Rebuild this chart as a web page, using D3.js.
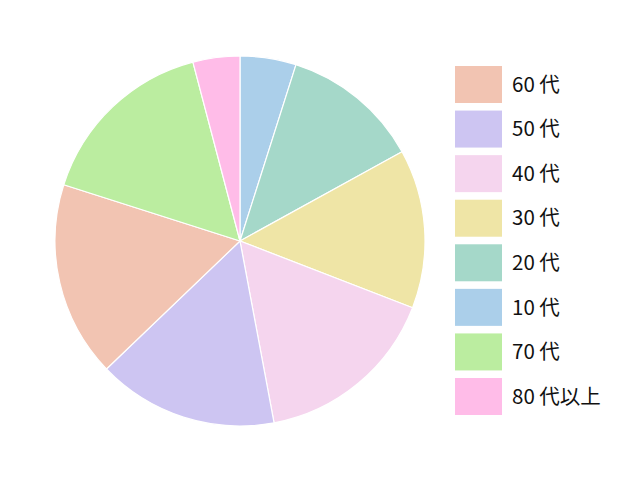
<!DOCTYPE html>
<html><head><meta charset="utf-8">
<script src="https://cdn.jsdelivr.net/npm/d3@7"></script>
<style>body{margin:0;background:#fff}</style>
</head><body>
<svg id="c" width="640" height="480"></svg>
<script>
const categories = ["10代","20代","30代","40代","50代","60代","70代","80代以上"];
const values = [4.9, 12.1, 13.9, 16.2, 15.8, 17.1, 16.0, 4.1];
const colors = ["#abcfea","#a5d8c9","#efe5a6","#f5d5ee","#cdc5f2","#f2c4b2","#bbeda0","#ffbce8"];
const legendOrder = ["60代","50代","40代","30代","20代","10代","70代","80代以上"];

const svg = d3.select("#c");
const cx = 240, cy = 241, r = 185;
const data = categories.map((c,i)=>({cat:c, v:values[i], col:colors[i]}));
const pie = d3.pie().value(d=>d.v).sort(null).startAngle(0).endAngle(2*Math.PI);
const arc = d3.arc().innerRadius(0).outerRadius(r);
svg.append("g").attr("transform",`translate(${cx},${cy})`)
  .selectAll("path").data(pie(data)).join("path")
  .attr("d",arc).attr("fill",d=>d.data.col)
  .attr("stroke","#fff").attr("stroke-width",1.2).attr("stroke-linejoin","round");

const color = d3.scaleOrdinal().domain(categories).range(colors);
const ly = d3.scalePoint().domain(legendOrder).range([66,378]);
const lg = svg.append("g");
legendOrder.forEach(c=>{
  const g = lg.append("g").attr("transform",`translate(455,${ly(c)})`);
  g.append("rect").attr("width",47).attr("height",37).attr("fill",color(c));
  g.append("text").attr("x",57).attr("y",18.5).attr("dy","0.35em")
    .attr("font-family","'Noto Sans CJK JP','Noto Sans',sans-serif").attr("font-size",20.5)
    .attr("fill","#111").text(c.replace(/^(\d+)/,"$1 "));
});
</script>
</body></html>
